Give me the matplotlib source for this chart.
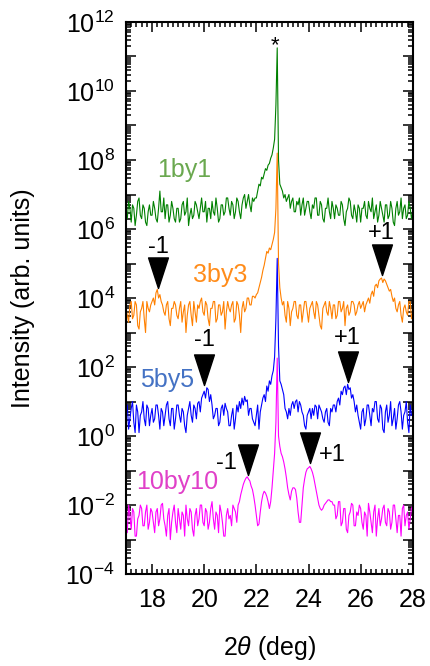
import numpy as np
import matplotlib
matplotlib.use("Agg")
from matplotlib import pyplot as plt
from matplotlib.path import Path
from matplotlib.ticker import FixedLocator, FuncFormatter, MultipleLocator

plt.rcParams['font.family'] = ['Liberation Sans', 'DejaVu Sans']
plt.rcParams['mathtext.fontset'] = 'custom'
plt.rcParams['mathtext.rm'] = 'Liberation Sans'
plt.rcParams['mathtext.it'] = 'Liberation Sans:italic'

# scan grid, 2theta in deg (0.05 deg steps)
two_theta = np.round(np.arange(17.0, 28.025, 0.05), 3)

# log10 intensities, one row per degree
log_1by1 = [6.5, 6.3, 6.8, 6.6, 6.2, 6.7, 6.6, 6.1, 6.4, 6.8, 6.9, 6.4, 6.3, 6.7, 6.6, 6.2, 6.1, 6.5, 6.7, 6.4,
            6.4, 6.8, 6.6, 6.3, 6.2, 6.6, 7.1, 6.5, 6.5, 6.9, 6.3, 6.7, 6.7, 6.2, 6.4, 6.8, 6.6, 6.3, 6.2, 6.6,
            6.6, 6.2, 6.3, 6.7, 6.8, 6.4, 6.5, 6.9, 6.1, 6.4, 6.6, 6.3, 6.4, 6.8, 6.7, 6.5, 6.3, 6.6, 6.9, 6.5,
            6.5, 6.8, 6.2, 6.6, 6.6, 6.3, 6.8, 6.5, 6.4, 6.9, 6.6, 6.2, 6.3, 6.7, 6.7, 6.4, 6.5, 6.9, 6.9, 6.6,
            6.4, 6.8, 6.7, 6.3, 6.5, 6.9, 6.8, 6.5, 6.3, 6.7, 6.9, 7.0, 6.6, 6.8, 7.0, 6.7, 6.5, 6.9, 6.8, 6.9,
            6.9, 7.1, 7.3, 7.25, 7.5, 7.45, 7.6, 7.75, 7.7, 7.85, 7.9, 8.05, 8.15, 8.35, 8.6, 9.6, 11.25, 8.0, 7.3, 7.2,
            7.1, 6.9, 7.0, 6.8, 6.9, 7.0, 6.6, 6.8, 6.9, 6.5, 6.5, 6.8, 6.7, 6.9, 6.4, 6.7, 6.9, 6.4, 6.6, 6.8,
            6.8, 6.5, 6.3, 6.7, 6.6, 6.9, 6.9, 6.4, 6.4, 6.8, 6.7, 6.3, 6.2, 6.6, 6.6, 6.9, 6.5, 6.3, 6.8, 6.6,
            6.3, 6.7, 6.6, 6.4, 6.4, 6.8, 6.7, 6.3, 6.1, 6.5, 6.6, 6.9, 6.8, 6.4, 6.3, 6.7, 6.5, 6.2, 6.7, 6.6,
            6.2, 6.6, 6.6, 6.8, 6.4, 6.3, 6.8, 6.6, 6.5, 6.9, 6.3, 6.5, 6.7, 6.2, 6.4, 6.8, 6.6, 6.4, 6.2, 6.7,
            6.7, 6.3, 6.4, 6.8, 6.6, 6.2, 6.1, 6.6, 6.8, 6.4, 6.5, 6.9, 6.3, 6.6, 6.7, 6.3, 6.4, 6.8, 6.6, 6.3,
            6.5]
log_3by3 = [3.7, 3.5, 3.3, 3.8, 3.9, 3.4, 3.5, 3.9, 3.8, 3.2, 3.1, 3.6, 3.7, 3.9, 3.4, 3.0, 3.9, 3.7, 3.6, 3.8,
            3.9, 4.0, 3.8, 4.15, 4.25, 4.0, 4.1, 3.9, 3.8, 3.6, 3.5, 3.8, 3.9, 3.4, 3.2, 3.7, 3.7, 3.9, 3.8, 3.5,
            3.4, 3.7, 3.9, 3.3, 3.6, 3.8, 3.0, 3.5, 3.8, 3.9, 3.5, 3.2, 3.9, 3.6, 3.3, 3.8, 3.7, 3.9, 4.0, 3.6,
            3.5, 3.9, 3.8, 3.4, 3.2, 3.7, 3.7, 3.9, 3.9, 3.3, 3.4, 3.8, 3.8, 3.5, 3.6, 3.9, 3.1, 3.6, 3.9, 3.7,
            3.6, 3.8, 3.9, 3.3, 3.4, 3.9, 3.8, 3.5, 3.0, 3.7, 3.9, 3.6, 3.7, 4.0, 4.0, 3.8, 3.8, 4.05, 4.05, 4.0,
            4.1, 4.15, 4.3, 4.45, 4.6, 4.8, 4.95, 5.15, 5.35, 5.3, 5.45, 5.4, 5.55, 5.7, 5.9, 6.6, 8.2, 5.0, 4.3, 4.0,
            3.8, 3.9, 3.5, 3.3, 3.9, 3.7, 3.2, 3.6, 3.7, 3.9, 3.9, 3.5, 3.4, 3.8, 3.8, 3.3, 3.6, 3.9, 3.9, 3.6,
            3.3, 3.7, 3.8, 3.9, 3.6, 3.4, 3.9, 3.8, 3.5, 3.2, 3.1, 3.7, 3.8, 3.9, 3.6, 3.5, 3.9, 3.7, 3.4, 3.8,
            3.8, 3.4, 3.5, 3.9, 3.9, 3.6, 3.7, 3.9, 3.2, 3.7, 3.8, 3.5, 3.6, 3.9, 3.9, 3.8, 3.5, 3.6, 3.8, 3.9,
            3.7, 3.8, 3.9, 3.6, 3.8, 3.9, 4.0, 3.85, 4.1, 4.2, 4.05, 4.35, 4.4, 4.3, 4.5, 4.55, 4.58, 4.45, 4.55, 4.5,
            4.4, 4.3, 4.2, 4.25, 4.05, 3.9, 4.0, 3.7, 3.6, 3.8, 3.9, 3.5, 3.3, 3.7, 3.8, 3.6, 3.5, 3.9, 3.9, 3.4,
            3.6]
log_5by5 = [0.6, 0.9, 0.2, 0.5, 0.8, 1.0, 0.4, 0.1, 0.9, 0.7, 0.1, 0.6, 0.7, 1.0, 0.5, 0.3, 0.9, 0.8, 0.3, 0.6,
            0.8, 0.4, 0.5, 0.9, 0.9, 0.6, 0.2, 0.8, 0.7, 0.3, 0.6, 0.9, 1.0, 0.5, 0.3, 0.8, 0.8, 0.2, 0.5, 0.9,
            0.9, 0.6, 0.4, 0.8, 0.7, 0.3, 0.1, 0.6, 0.8, 1.0, 0.6, 0.4, 0.9, 0.8, 0.5, 0.95, 1.0, 0.7, 1.1, 1.2,
            1.3, 1.1, 1.4, 1.35, 1.0, 1.2, 0.9, 0.5, 0.6, 0.8, 0.8, 0.3, 0.4, 0.8, 0.9, 0.6, 0.95, 0.8, 0.7, 0.3,
            0.3, 0.6, 0.8, 0.2, 0.5, 0.9, 0.7, 1.0, 0.8, 1.1, 0.9, 1.15, 1.0, 1.05, 0.6, 0.8, 0.8, 0.5, 0.4, 0.3,
            0.6, 0.9, 0.2, 0.7, 0.9, 1.1, 1.2, 1.0, 1.45, 1.3, 1.6, 1.5, 1.75, 1.9, 2.3, 3.4, 5.15, 2.6, 1.6, 1.5,
            1.35, 1.2, 0.8, 0.7, 0.5, 0.8, 0.6, 0.9, 1.0, 0.8, 1.0, 1.05, 0.7, 1.0, 0.9, 0.7, 0.6, 0.3, 0.2, 0.6,
            0.7, 0.8, 0.5, 0.8, 0.6, 0.9, 0.85, 0.5, 0.9, 0.8, 0.7, 0.5, 0.4, 0.7, 0.8, 0.4, 0.3, 0.8, 0.7, 0.9,
            0.9, 0.7, 1.0, 1.1, 0.9, 1.3, 1.2, 1.4, 1.45, 1.2, 1.5, 1.35, 1.4, 1.1, 1.2, 1.0, 0.7, 0.9, 0.6, 0.4,
            0.2, 0.7, 0.8, 0.3, 0.5, 0.9, 0.9, 0.6, 0.3, 0.8, 0.7, 1.0, 1.0, 0.5, 0.4, 0.9, 0.8, 0.2, 0.1, 0.7,
            0.9, 0.4, 0.6, 1.0, 0.3, 0.5, 0.8, 0.2, 0.5, 0.9, 1.0, 0.7, 0.2, 0.6, 0.7, 1.0, 0.4, 0.1, 0.9, 0.6,
            0.6]
log_10by10 = [-2.4, -2.8, -2.0, -2.3, -2.7, -2.1, -2.2, -2.9, -2.9, -2.4, -2.3, -2.0, -2.1, -2.6, -2.6, -2.2, -2.0, -2.7, -2.5, -2.1,
              -2.2, -2.5, -2.8, -2.2, -2.1, -2.6, -2.4, -2.0, -1.95, -2.4, -2.6, -2.9, -2.3, -2.1, -3.0, -2.5, -2.2, -2.0, -2.5, -2.8,
              -2.1, -2.4, -2.7, -2.2, -2.3, -2.9, -2.0, -2.4, -2.6, -2.1, -2.2, -2.7, -2.9, -2.3, -2.1, -2.6, -2.4, -2.0, -2.0, -2.5,
              -2.6, -2.1, -2.2, -2.7, -2.5, -2.1, -1.9, -2.4, -2.7, -2.2, -2.3, -2.8, -2.0, -2.2, -2.5, -2.9, -2.9, -2.3, -2.1, -2.4,
              -2.3, -2.6, -2.0, -2.1, -2.2, -2.5, -2.0, -1.9, -1.7, -1.55, -1.4, -1.3, -1.22, -1.18, -1.25, -1.3, -1.45, -1.55, -1.75, -2.0,
              -2.3, -2.6, -2.55, -2.2, -1.9, -1.7, -1.6, -1.65, -1.75, -1.9, -2.1, -1.9, -1.5, -1.0, -0.5, 0.4, 2.26, 0.0, -0.3, -0.5,
              -0.6, -0.75, -0.95, -1.2, -1.5, -1.7, -1.85, -1.6, -1.5, -1.5, -1.55, -1.8, -2.2, -2.5, -2.5, -2.0, -1.5, -1.25, -1.05, -0.95,
              -0.92, -0.88, -0.95, -1.05, -1.2, -1.4, -1.6, -1.8, -2.0, -2.1, -2.15, -2.1, -2.0, -1.95, -1.9, -1.85, -1.85, -1.9, -1.9, -2.0,
              -2.0, -2.4, -2.3, -1.9, -1.9, -2.6, -2.5, -2.1, -2.1, -2.7, -2.8, -2.3, -2.2, -1.95, -2.0, -2.6, -2.6, -2.2, -2.3, -2.0,
              -2.1, -2.5, -2.7, -2.2, -2.3, -2.9, -1.95, -2.2, -2.5, -2.8, -2.2, -2.0, -2.9, -2.4, -2.1, -2.6, -2.4, -2.1, -2.0, -2.5,
              -2.6, -2.1, -2.2, -2.7, -2.5, -2.0, -2.0, -2.4, -2.8, -2.3, -2.3, -2.9, -2.1, -2.0, -2.6, -2.3, -2.2, -2.7, -2.4, -2.1,
              -2.0]

series_names = ['1by1', '3by3', '5by5', '10by10']
line_colors = ['#008000', '#ff8000', '#0000ff', '#ff00ff']
text_colors = ['#6aa84f', '#ff8c1a', '#4472c4', '#e040c8']
name_x = [19.22, 20.6, 18.57, 18.97]
name_logy = [7.71, 4.67, 1.62, -1.33]

# satellite peaks: triangle tip (x, log10 y), label, label position
sat_x = [18.23, 26.81, 19.99, 25.5, 21.67, 24.05]
sat_logy = [4.29, 4.67, 1.48, 1.57, -1.13, -0.78]
sat_text = ['-1', '+1', '-1', '+1', '-1', '+1']
sat_text_x = [18.23, 26.81, 20.0, 25.5, 20.87, 24.93]
sat_text_logy = [5.48, 5.88, 2.78, 2.84, -0.78, -0.55]

fig = plt.figure(figsize=(4.30, 6.66), dpi=100)
ax = fig.add_axes([0.293, 0.138, 0.667, 0.829])

for ys, c in zip([log_1by1, log_3by3, log_5by5, log_10by10], line_colors):
    ax.plot(two_theta, 10 ** np.asarray(ys), color=c, lw=0.8)

for n, c, x, ly in zip(series_names, text_colors, name_x, name_logy):
    ax.text(x, 10 ** ly, n, color=c, fontsize=18, ha='center', va='center')

# downward triangle with its tip at the marker origin
tri = Path([(-0.65, 2.0), (0.65, 2.0), (0.0, 0.0), (-0.65, 2.0)],
           [Path.MOVETO, Path.LINETO, Path.LINETO, Path.CLOSEPOLY])
for x, ly in zip(sat_x, sat_logy):
    ax.plot([x], [10 ** ly], marker=tri, ms=44, color='black', ls='none')
for t, x, ly in zip(sat_text, sat_text_x, sat_text_logy):
    ax.text(x, 10 ** ly, t, fontsize=17, ha='center', va='center')

ax.text(22.71, 10 ** 11.3, '*', fontsize=16, ha='center', va='center')

ax.set_xlim(17, 28)
ax.set_yscale('log')
ax.set_ylim(1e-4, 1e12)
ax.xaxis.set_major_locator(MultipleLocator(2))
ax.xaxis.set_minor_locator(MultipleLocator(0.2))
ax.yaxis.set_major_locator(FixedLocator([10.0 ** k for k in range(-4, 13)]))
ax.yaxis.set_minor_locator(FixedLocator([m * 10.0 ** k for k in range(-4, 12) for m in range(2, 10)]))


def ylab(v, pos):
    k = int(round(np.log10(v)))
    if k % 2:
        return ''
    return r'$\mathregular{10^{%d}}$' % k


ax.yaxis.set_major_formatter(FuncFormatter(ylab))
ax.tick_params(which='both', direction='in', top=True, right=True, width=1.1, labelsize=18)
ax.tick_params(which='major', length=7)
ax.tick_params(which='minor', length=3.5)
ax.tick_params(axis='y', pad=8)
ax.tick_params(axis='x', pad=10)
for s in ax.spines.values():
    s.set_linewidth(1.5)

ax.set_xlabel(r'2$\theta$ (deg)', fontsize=18, labelpad=16)
ax.set_ylabel('Intensity (arb. units)', fontsize=18, labelpad=22)

fig.savefig('out.png', dpi=100)
